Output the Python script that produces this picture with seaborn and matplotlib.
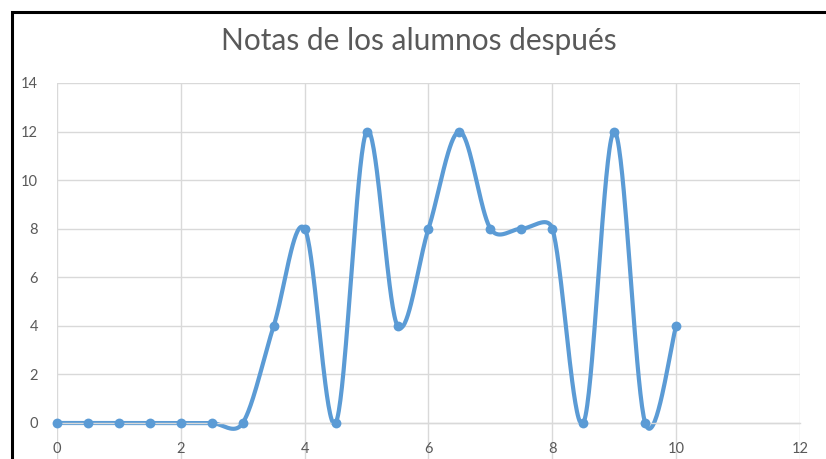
import numpy as np
import matplotlib
matplotlib.use("Agg")
import matplotlib.pyplot as plt
import seaborn as sns
from matplotlib.lines import Line2D

# Grades (x) and number of students (y)
notas = [0, 0.5, 1, 1.5, 2, 2.5, 3, 3.5, 4, 4.5, 5, 5.5, 6, 6.5, 7, 7.5, 8, 8.5, 9, 9.5, 10]
alumnos = [0, 0, 0, 0, 0, 0, 0, 4, 8, 0, 12, 4, 8, 12, 8, 8, 8, 0, 12, 0, 4]
x_ticks = [0, 2, 4, 6, 8, 10, 12]
y_ticks = [0, 2, 4, 6, 8, 10, 12, 14]
title = "Notas de los alumnos después"

LINE_BLUE = "#5B9BD5"
GRID_GRAY = "#D9D9D9"
TEXT_GRAY = "#595959"

W, H = 826, 459
sns.set_theme(style="white")
plt.rcParams["font.family"] = ["Lato", "DejaVu Sans"]

fig = plt.figure(figsize=(W / 100, H / 100), dpi=100)
fig.patch.set_facecolor("white")

# plot area in pixels; the value axis runs from -2 to 14
left, right, top, zero_y = 57, 800, 83, 423
px_per_unit = (zero_y - top) / 14
bottom = zero_y + 2 * px_per_unit
ax = fig.add_axes([left / W, 1 - bottom / H, (right - left) / W, (bottom - top) / H])
ax.set_xlim(0, 12)
ax.set_ylim(-2, 14)
ax.set_xticks(x_ticks)
ax.set_yticks(y_ticks)
ax.grid(True, color=GRID_GRAY, linewidth=1.0)
ax.set_axisbelow(True)
for name, sp in ax.spines.items():
    sp.set_visible(False)
ax.spines["bottom"].set_visible(True)
ax.spines["bottom"].set_position(("data", 0))
ax.spines["bottom"].set_color(GRID_GRAY)
ax.spines["bottom"].set_linewidth(1.0)
ax.tick_params(axis="x", length=0, pad=14, labelsize=10.5, labelcolor=TEXT_GRAY)
ax.tick_params(axis="y", length=0, pad=13.5, labelsize=10.5, labelcolor=TEXT_GRAY)


def smooth_curve(xd, yd, n=40):
    """Bezier smoothing in screen space, control arms capped at half a segment."""
    pts = ax.transData.transform(np.column_stack([xd, yd]))
    m = len(pts)
    out = [pts[0]]
    t = np.linspace(0, 1, n)[1:, None]
    for i in range(m - 1):
        p0 = pts[i - 1] if i > 0 else pts[i]
        p1, p2 = pts[i], pts[i + 1]
        p3 = pts[i + 2] if i + 2 < m else pts[i + 1]
        d12 = np.hypot(*(p2 - p1))
        d02 = np.hypot(*(p2 - p0))
        d13 = np.hypot(*(p3 - p1))
        f1 = 1 / 6 if d02 / 6 < d12 / 2 else d12 / (2 * d02)
        f2 = 1 / 6 if d13 / 6 < d12 / 2 else d12 / (2 * d13)
        c1 = p1 + f1 * (p2 - p0)
        c2 = p2 - f2 * (p3 - p1)
        seg = ((1 - t) ** 3) * p1 + 3 * ((1 - t) ** 2) * t * c1 + 3 * (1 - t) * (t ** 2) * c2 + (t ** 3) * p2
        out.extend(seg)
    return ax.transData.inverted().transform(np.array(out))


curve = smooth_curve(notas, alumnos)
sns.lineplot(x=curve[:, 0], y=curve[:, 1], ax=ax, sort=False, estimator=None,
             color=LINE_BLUE, linewidth=3.0, clip_on=False)
sns.scatterplot(x=notas, y=alumnos, ax=ax, color=LINE_BLUE, s=50,
                edgecolor=LINE_BLUE, linewidth=0, zorder=5, clip_on=False)
ax.set_xlabel("")
ax.set_ylabel("")
ax.set_xlim(0, 12)
ax.set_ylim(-2, 14)

# chart title, fitted to its width
ttl = fig.text(418.5 / W, 1 - 50 / H, title, ha="center", va="baseline",
               color=TEXT_GRAY, fontsize=16)
fig.canvas.draw()
bb = ttl.get_window_extent(renderer=fig.canvas.get_renderer())
ttl.set_fontsize(16 * 397 / bb.width)

# chart frame (top and left edges)
bx, by = 11.5, 11.5
fig.add_artist(Line2D([bx / W, bx / W, 1.2], [-0.2, 1 - by / H, 1 - by / H],
                      transform=fig.transFigure, color="black", linewidth=2.2,
                      solid_joinstyle="miter"))

fig.savefig("out.png", dpi=100)
